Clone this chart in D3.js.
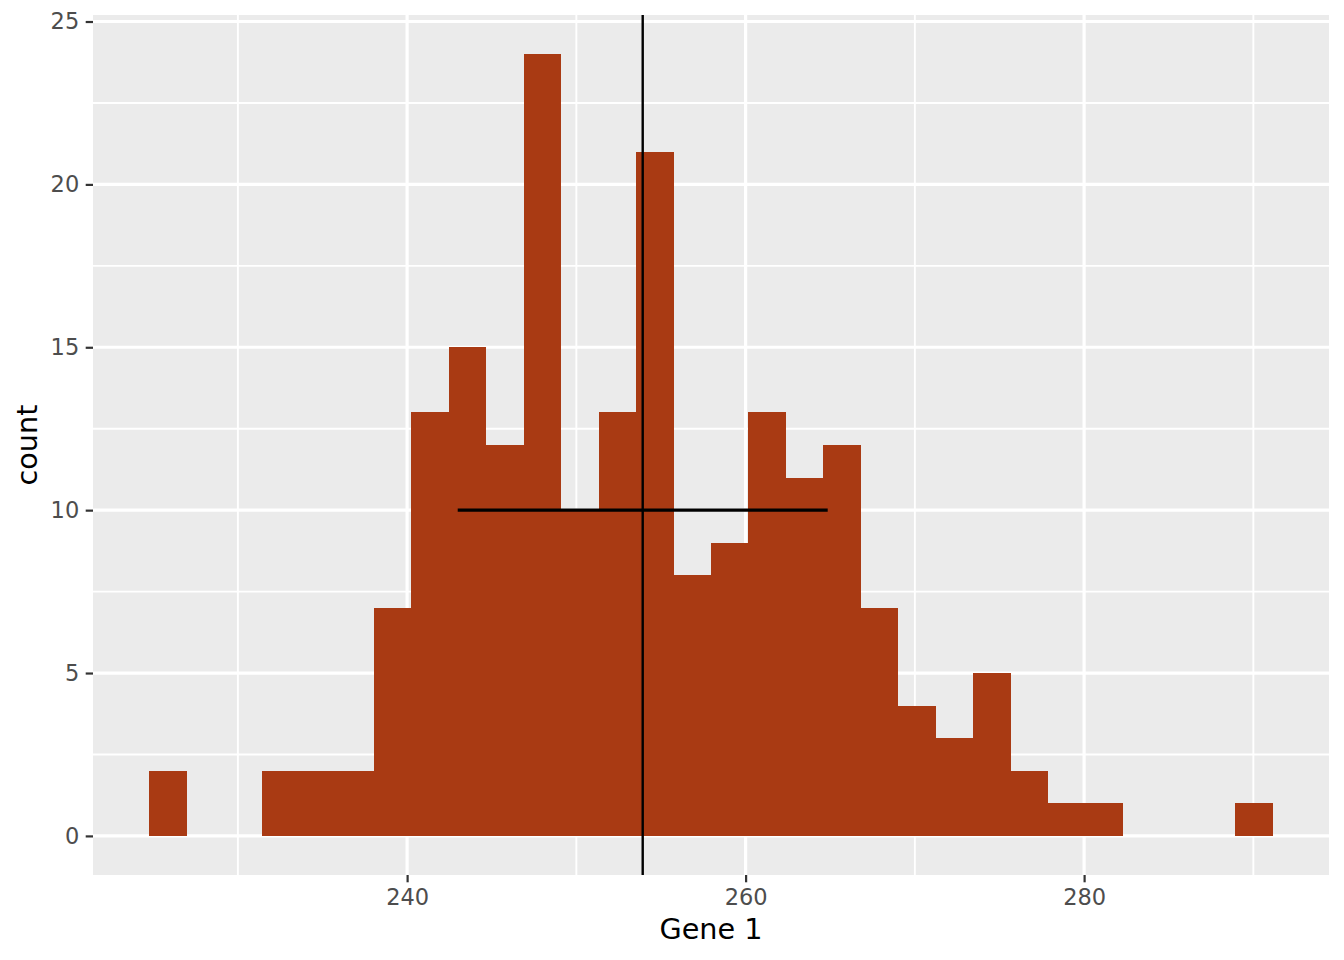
<!DOCTYPE html>
<html>
<head>
<meta charset="utf-8">
<script src="https://cdn.jsdelivr.net/npm/d3@7"></script>
<style>
  html, body { margin: 0; padding: 0; background: #ffffff; }
  svg { display: block; font-family: "DejaVu Sans", sans-serif; }
</style>
</head>
<body>
<svg id="chart" width="1344" height="960"></svg>
<script>
// ---- data ----
const binEdges = [224.76, 226.97, 229.19, 231.40, 233.61, 235.83, 238.04, 240.25, 242.46, 244.68,
                  246.89, 249.10, 251.32, 253.53, 255.74, 257.96, 260.17, 262.38, 264.59, 266.81,
                  269.02, 271.23, 273.45, 275.66, 277.87, 280.09, 282.30, 284.51, 286.72, 288.94, 291.15];
const counts = [2, 0, 0, 2, 2, 2, 7, 13, 15, 12, 24, 10, 13, 21, 8, 9, 13, 11, 12, 7, 4, 3, 5, 2, 1, 1, 0, 0, 0, 1];
const meanValue = 253.92;
const sdValue = 10.93;
const sdBarY = 10;
const xTicks = [240, 260, 280];
const xMinorTicks = [230, 250, 270, 290];
const yTicks = [0, 5, 10, 15, 20, 25];
const yMinorTicks = [2.5, 7.5, 12.5, 17.5, 22.5];
const xTitle = "Gene 1";
const yTitle = "count";

const bins = counts.map((c, i) => ({ x0: binEdges[i], x1: binEdges[i + 1], count: c }));

// ---- layout ----
const panel = { left: 93, right: 1329, top: 15, bottom: 875 };
const svg = d3.select("#chart");

const xLo = binEdges[0], xHi = binEdges[binEdges.length - 1];
const xPad = (xHi - xLo) * 0.05;
const yMax = d3.max(counts);
const yPad = yMax * 0.05;

const x = d3.scaleLinear().domain([xLo - xPad, xHi + xPad]).range([panel.left, panel.right]);
const y = d3.scaleLinear().domain([-yPad, yMax + yPad]).range([panel.bottom, panel.top]);

// panel background
svg.append("rect")
  .attr("x", panel.left).attr("y", panel.top)
  .attr("width", panel.right - panel.left).attr("height", panel.bottom - panel.top)
  .attr("fill", "#EBEBEB");

const grid = svg.append("g");
// minor grid
grid.selectAll(".xminor").data(xMinorTicks).enter().append("line")
  .attr("x1", d => x(d)).attr("x2", d => x(d))
  .attr("y1", panel.top).attr("y2", panel.bottom)
  .attr("stroke", "#ffffff").attr("stroke-width", 1.9);
grid.selectAll(".yminor").data(yMinorTicks).enter().append("line")
  .attr("y1", d => y(d)).attr("y2", d => y(d))
  .attr("x1", panel.left).attr("x2", panel.right)
  .attr("stroke", "#ffffff").attr("stroke-width", 1.9);
// major grid
grid.selectAll(".xmajor").data(xTicks).enter().append("line")
  .attr("x1", d => x(d)).attr("x2", d => x(d))
  .attr("y1", panel.top).attr("y2", panel.bottom)
  .attr("stroke", "#ffffff").attr("stroke-width", 3.2);
grid.selectAll(".ymajor").data(yTicks).enter().append("line")
  .attr("y1", d => y(d)).attr("y2", d => y(d))
  .attr("x1", panel.left).attr("x2", panel.right)
  .attr("stroke", "#ffffff").attr("stroke-width", 3.2);

// bars
svg.append("g").selectAll("rect").data(bins.filter(b => b.count > 0)).enter().append("rect")
  .attr("x", d => x(d.x0))
  .attr("width", d => x(d.x1) - x(d.x0))
  .attr("y", d => y(d.count))
  .attr("height", d => y(0) - y(d.count))
  .attr("fill", "#A93A13")
  .attr("shape-rendering", "crispEdges");

// mean line
svg.append("line")
  .attr("x1", x(meanValue)).attr("x2", x(meanValue))
  .attr("y1", panel.top).attr("y2", panel.bottom)
  .attr("stroke", "#000000").attr("stroke-width", 2.4);

// sd bar
svg.append("line")
  .attr("x1", x(meanValue - sdValue)).attr("x2", x(meanValue + sdValue))
  .attr("y1", y(sdBarY)).attr("y2", y(sdBarY))
  .attr("stroke", "#000000").attr("stroke-width", 3.2);

// axes
const xAxis = d3.axisBottom(x).tickValues(xTicks).tickSize(7.3).tickPadding(6.5).tickFormat(d3.format("d"));
const gx = svg.append("g").attr("transform", `translate(0,${panel.bottom})`).call(xAxis);
gx.select(".domain").remove();
gx.attr("font-size", null).attr("font-family", null);
gx.selectAll(".tick line").attr("stroke", "#333333").attr("stroke-width", 2.2);
gx.selectAll(".tick text").attr("fill", "#4D4D4D").style("font-size", "22.5px")
  .style("font-family", "'DejaVu Sans', sans-serif");

const yAxis = d3.axisLeft(y).tickValues(yTicks).tickSize(7.3).tickPadding(6.5).tickFormat(d3.format("d"));
const gy = svg.append("g").attr("transform", `translate(${panel.left},0)`).call(yAxis);
gy.select(".domain").remove();
gy.attr("font-size", null).attr("font-family", null);
gy.selectAll(".tick line").attr("stroke", "#333333").attr("stroke-width", 2.2);
gy.selectAll(".tick text").attr("fill", "#4D4D4D").style("font-size", "22.5px")
  .style("font-family", "'DejaVu Sans', sans-serif");

// axis titles
svg.append("text")
  .attr("x", (panel.left + panel.right) / 2).attr("y", 939)
  .attr("text-anchor", "middle")
  .attr("fill", "#000000")
  .style("font-size", "28.7px")
  .text(xTitle);

svg.append("text")
  .attr("transform", `translate(37,${(panel.top + panel.bottom) / 2}) rotate(-90)`)
  .attr("text-anchor", "middle")
  .attr("fill", "#000000")
  .style("font-size", "28.7px")
  .text(yTitle);
</script>
</body>
</html>
